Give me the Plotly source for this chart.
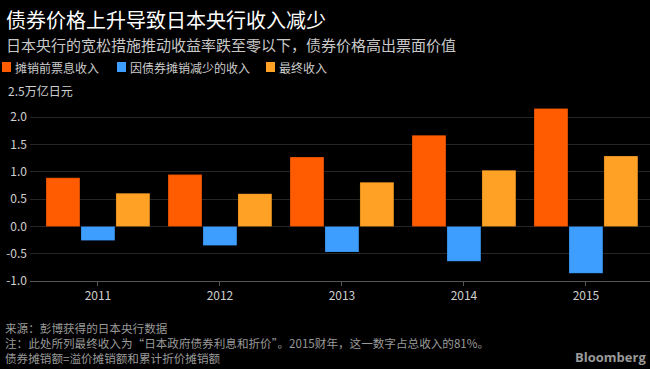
import plotly.graph_objects as go

years = ["2011", "2012", "2013", "2014", "2015"]
series_names = ["摊销前票息收入", "因债券摊销减少的收入", "最终收入"]
coupon_income = [0.89, 0.95, 1.27, 1.67, 2.16]
amortization = [-0.26, -0.35, -0.47, -0.64, -0.86]
final_income = [0.61, 0.60, 0.81, 1.03, 1.29]
colors = ["#FF5B00", "#3D9EFF", "#FFA125"]
ytick_vals = [-1.0, -0.5, 0.0, 0.5, 1.0, 1.5, 2.0, 2.5]
ytick_text = ["-1.0", "-0.5", "0.0", "0.5", "1.0", "1.5", "2.0", ""]
unit_label = "2.5万亿日元"

title = "债券价格上升导致日本央行收入减少"
subtitle = "日本央行的宽松措施推动收益率跌至零以下，债券价格高出票面价值"
footer = [
    "来源：彭博获得的日本央行数据",
    "注：此处所列最终收入为“日本政府债券利息和折价”。2015财年，这一数字占总收入的81%。",
    "债券摊销额=溢价摊销额和累计折价摊销额",
]

W, H = 650, 369
L, R, T, B = 30, 0, 90, 88
pw, ph = W - L - R, H - T - B

def px_x(x):
    return (x - L) / pw

def px_y(y):
    return (H - B - y) / ph

FONT = "Noto Sans CJK SC"

fig = go.Figure()
for name, vals, c in zip(series_names, [coupon_income, amortization, final_income], colors):
    fig.add_trace(go.Bar(
        x=years, y=vals, name=name,
        marker=dict(color=c, line=dict(color="rgba(0,0,0,0.35)", width=0.6)),
        showlegend=False,
    ))

annotations = []
shapes = []
annotations.append(dict(text=title, x=px_x(4), y=px_y(19), xref="paper", yref="paper",
                        xanchor="left", yanchor="middle", showarrow=False,
                        font=dict(family=FONT, size=20, color="#ffffff")))
annotations.append(dict(text=subtitle, x=px_x(4), y=px_y(44), xref="paper", yref="paper",
                        xanchor="left", yanchor="middle", showarrow=False,
                        font=dict(family=FONT, size=15, color="#c8c8c8")))

legend_x = [2, 117, 266]
for name, c, lx in zip(series_names, colors, legend_x):
    shapes.append(dict(type="rect", xref="paper", yref="paper",
                       x0=px_x(lx), x1=px_x(lx + 9), y0=px_y(72), y1=px_y(62),
                       fillcolor=c, line=dict(width=0)))
    annotations.append(dict(text=name, x=px_x(lx + 11), y=px_y(67.5), xref="paper", yref="paper",
                            xanchor="left", yanchor="middle", showarrow=False,
                            font=dict(family=FONT, size=12, color="#cccccc")))

annotations.append(dict(text=unit_label, x=px_x(6), y=2.5, xref="paper", yref="y",
                        xanchor="left", yanchor="middle", showarrow=False, bgcolor="#000000",
                        borderpad=1,
                        font=dict(family=FONT, size=12, color="#d0d0d0")))

annotations.append(dict(text="<br>".join(footer), x=px_x(3), y=px_y(342.5), xref="paper", yref="paper",
                        xanchor="left", yanchor="middle", align="left", showarrow=False,
                        font=dict(family=FONT, size=11.6, color="#9a9a9a")))
annotations.append(dict(text="<b>Bloomberg</b>", x=px_x(648), y=px_y(357), xref="paper", yref="paper",
                        xanchor="right", yanchor="middle", showarrow=False,
                        font=dict(family="Open Sans", size=13, color="#9a9a9a")))

fig.update_layout(
    width=W, height=H,
    margin=dict(l=L, r=R, t=T, b=B),
    paper_bgcolor="#000000", plot_bgcolor="#000000",
    barmode="group", bargap=0.14, bargroupgap=0.03,
    annotations=annotations, shapes=shapes,
    font=dict(family=FONT),
    xaxis=dict(
        type="category", range=[-0.557, 4.525],
        showgrid=False, showline=True, linecolor="#555555", linewidth=1,
        ticks="outside", ticklen=4, tickcolor="#555555",
        tickfont=dict(family=FONT, size=12, color="#cfcfcf"),
        fixedrange=True,
    ),
    yaxis=dict(
        range=[-1.0, 2.5], tickvals=ytick_vals, ticktext=ytick_text,
        showgrid=True, gridcolor="#262626", gridwidth=1,
        zeroline=False, showline=False,
        ticks="", ticklabelstandoff=2,
        tickfont=dict(family=FONT, size=12, color="#d0d0d0"),
        fixedrange=True,
    ),
)

fig.write_html(
    "out.html",
    config={"displayModeBar": False},
    post_script="document.body.style.margin='0';document.body.style.background='#000';",
)
